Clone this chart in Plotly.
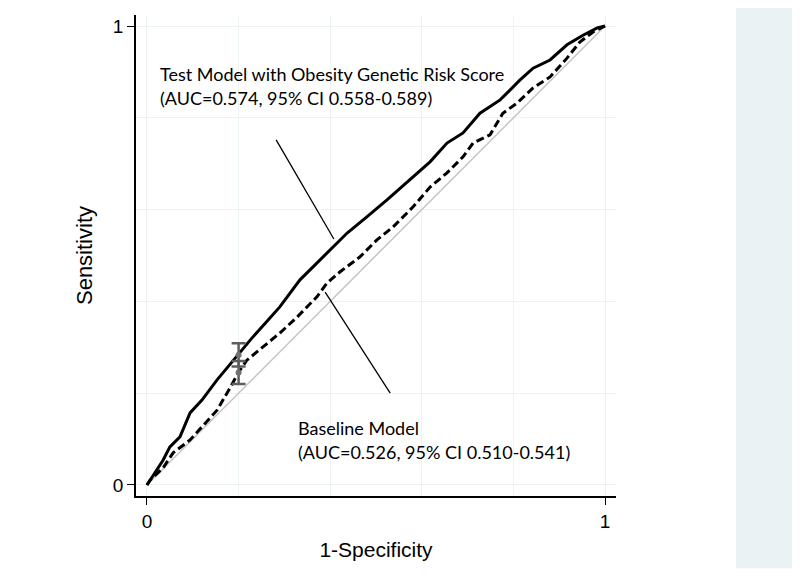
import plotly.graph_objects as go

# Test model ROC (solid)
test_fpr = [0, 0.035, 0.050, 0.072, 0.094, 0.120, 0.153, 0.188, 0.229, 0.264, 0.290, 0.334,
            0.378, 0.437, 0.480, 0.524, 0.618, 0.655, 0.690, 0.727, 0.771, 0.814, 0.843,
            0.880, 0.917, 0.952, 0.983, 1.0]
test_tpr = [0, 0.054, 0.083, 0.105, 0.157, 0.185, 0.229, 0.272, 0.320, 0.359, 0.388, 0.447,
            0.490, 0.549, 0.584, 0.621, 0.704, 0.745, 0.767, 0.810, 0.839, 0.882, 0.908,
            0.926, 0.959, 0.980, 0.996, 1.0]

# Baseline model ROC (dashed)
base_fpr = [0, 0.007, 0.035, 0.057, 0.094, 0.127, 0.153, 0.181, 0.199, 0.218, 0.253, 0.290,
            0.328, 0.371, 0.393, 0.421, 0.465, 0.502, 0.537, 0.581, 0.618, 0.655, 0.690,
            0.712, 0.749, 0.777, 0.808, 0.843, 0.880, 0.917, 0.945, 0.974, 1.0]
base_tpr = [0, 0.011, 0.037, 0.070, 0.098, 0.135, 0.163, 0.211, 0.244, 0.272, 0.301, 0.331,
            0.366, 0.410, 0.440, 0.464, 0.497, 0.534, 0.562, 0.606, 0.649, 0.680, 0.715,
            0.745, 0.763, 0.810, 0.832, 0.865, 0.889, 0.930, 0.965, 0.987, 1.0]

# Confidence interval markers at fixed 1-specificity
ci_x = [0.20, 0.20]
ci_y = [0.283, 0.245]
ci_hi = [0.309, 0.270]
ci_lo = [0.258, 0.220]

test_label = ["Test Model with Obesity Genetic Risk Score", "(AUC=0.574, 95% CI 0.558-0.589)"]
base_label = ["Baseline Model", "(AUC=0.526, 95% CI 0.510-0.541)"]

fig = go.Figure()

fig.add_trace(go.Scatter(x=[0, 1], y=[0, 1], mode="lines",
                         line=dict(color="#c4c4c4", width=1.5), showlegend=False))
fig.add_trace(go.Scatter(x=base_fpr, y=base_tpr, mode="lines",
                         line=dict(color="black", width=3, dash="8px,4px"), showlegend=False))
fig.add_trace(go.Scatter(x=test_fpr, y=test_tpr, mode="lines",
                         line=dict(color="black", width=3), showlegend=False))
fig.add_trace(go.Scatter(
    x=ci_x, y=ci_y, mode="markers",
    marker=dict(color="#707070", size=6),
    error_y=dict(type="data", symmetric=False,
                 array=[h - v for h, v in zip(ci_hi, ci_y)],
                 arrayminus=[v - l for l, v in zip(ci_lo, ci_y)],
                 color="#5e5e5e", thickness=2.5, width=7),
    showlegend=False))

tfont = dict(family="Lato, Open Sans, sans-serif", size=18, color="black")
fig.add_annotation(x=0.024, y=0.895, xref="x", yref="y", text=test_label[0], showarrow=False,
                   xanchor="left", yanchor="middle", font=tfont)
fig.add_annotation(x=0.024, y=0.843, xref="x", yref="y", text=test_label[1], showarrow=False,
                   xanchor="left", yanchor="middle", font=tfont)
fig.add_annotation(x=0.325, y=0.124, xref="x", yref="y", text=base_label[0], showarrow=False,
                   xanchor="left", yanchor="middle", font=tfont)
fig.add_annotation(x=0.325, y=0.072, xref="x", yref="y", text=base_label[1], showarrow=False,
                   xanchor="left", yanchor="middle", font=tfont)

# pointer lines
fig.add_shape(type="line", xref="x", yref="y", x0=0.282, y0=0.752, x1=0.408, y1=0.536,
              line=dict(color="black", width=1.3))
fig.add_shape(type="line", xref="x", yref="y", x0=0.389, y0=0.420, x1=0.531, y1=0.200,
              line=dict(color="black", width=1.3))

# right side panel
fig.add_shape(type="rect", xref="paper", yref="paper", x0=1.25, x1=1.367, y0=-0.150, y1=1.0166,
              fillcolor="#eaf2f3", line=dict(width=0), layer="below")

grid_color = "#edf3f4"
axfont = "Liberation Sans, Arial, sans-serif"
fig.update_xaxes(range=[-0.024, 1.024], tickvals=[0, 1], ticktext=["0", "1"],
                 showline=True, linecolor="black", linewidth=1.5,
                 ticks="outside", ticklen=7, tickcolor="black", tickwidth=1,
                 showgrid=True, gridcolor=grid_color, gridwidth=1, zeroline=False,
                 minor=dict(dtick=0.2, tick0=0, showgrid=True, gridcolor=grid_color, ticks=""),
                 tickfont=dict(family=axfont, size=19, color="black"),
                 title=dict(text="1-Specificity", font=dict(family=axfont, size=21, color="black"), standoff=12))
fig.update_yaxes(range=[-0.024, 1.024], tickvals=[0, 1], ticktext=["0", "1"],
                 showline=True, linecolor="black", linewidth=1.5,
                 ticks="outside", ticklen=7, tickcolor="black", tickwidth=1,
                 showgrid=True, gridcolor=grid_color, gridwidth=1, zeroline=False,
                 minor=dict(dtick=0.2, tick0=0, showgrid=True, gridcolor=grid_color, ticks=""),
                 tickfont=dict(family=axfont, size=19, color="black"),
                 title=dict(text="Sensitivity", font=dict(family=axfont, size=22, color="black"), standoff=14))

fig.update_layout(width=800, height=577, margin=dict(l=128, r=192, t=7, b=89),
                  paper_bgcolor="white", plot_bgcolor="white", showlegend=False)

fig.write_html("out.html")
